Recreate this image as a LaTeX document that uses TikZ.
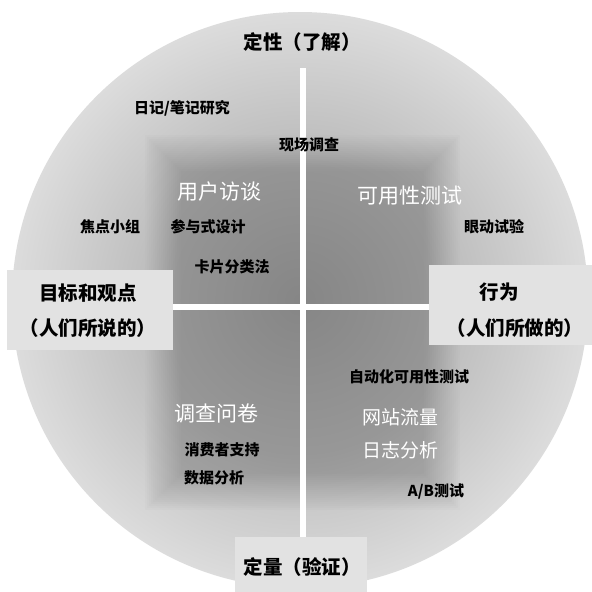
\documentclass[tikz,border=0pt]{standalone}
\usepackage{fontspec}
\setmainfont{Noto Sans CJK SC}
\definecolor{outerg}{HTML}{DCDCDC}
\definecolor{innerg}{HTML}{9A9A9A}
\definecolor{darkg}{HTML}{6E6E6E}
\definecolor{boxg}{HTML}{E2E2E2}
\tikzset{
  blk/.style={font=\bfseries\fontsize{15}{17}\selectfont, text=black, inner sep=1pt},
  wht/.style={font=\fontsize{21}{24}\selectfont, text=white, inner sep=1pt},
  whs/.style={font=\fontsize{19}{22}\selectfont, text=white, inner sep=1pt},
  axis/.style={font=\bfseries\fontsize{19.5}{22}\selectfont, text=black, inner sep=1pt},
  sidebox/.style={fill=boxg, draw=none},
  divider/.style={draw=white, line width=6pt},
}
\begin{document}
\begin{tikzpicture}[x=1pt,y=-1pt]
\useasboundingbox (0,0) rectangle (592,592);
\fill[white] (0,0) rectangle (592,592);
% circle
\shade[inner color=innerg, outer color=outerg] (300,300) circle (288);
\begin{scope}
\clip (300,300) circle (288);
\foreach \d in {0,2,...,36} {
  \fill[darkg, opacity=0.022] (145+\d,135+\d) rectangle (460-\d,510-\d);
}
\end{scope}
% side boxes
\fill[sidebox] (7,270) rectangle (173,350);
\fill[sidebox] (429,265) rectangle (592,345);
\fill[sidebox] (235,537) rectangle (367,592);
% dividers
\coordinate (vt) at (303,68);
\coordinate (vb) at (303,537);
\coordinate (hl) at (173,307);
\coordinate (hr) at (429,307);
\draw[divider] (vt) -- (vb);
\draw[divider] (hl) -- (hr);
% axis labels
\node[axis] (top) at (302,42) {定性（了解）};
\node[axis] (bot) at (302,567) {定量（验证）};
\node[axis] (left1) at (88,293) {目标和观点};
\node[axis] (left2) at (88,328) {（人们所说的）};
\node[axis] (right1) at (499,292) {行为};
\node[axis] (right2) at (515,328) {（人们所做的）};
% methods
\node[blk] (diary) at (182,108) {日记/笔记研究};
\node[blk] (field) at (309,145) {现场调查};
\node[wht] (interview) at (219,192) {用户访谈};
\node[wht] (usability) at (410,196) {可用性测试};
\node[blk] (focus) at (110,227) {焦点小组};
\node[blk] (partic) at (208,227) {参与式设计};
\node[blk] (card) at (232,267) {卡片分类法};
\node[blk] (eye) at (494,227) {眼动试验};
\node[blk] (auto) at (409,377) {自动化可用性测试};
\node[wht] (survey) at (216,413) {调查问卷};
\node[whs] (traffic) at (400,417) {网站流量};
\node[blk] (support) at (222,450) {消费者支持};
\node[whs] (log) at (400,450) {日志分析};
\node[blk] (data) at (214,478) {数据分析};
\node[blk] (ab) at (436,492) {A/B测试};
\end{tikzpicture}
\end{document}
